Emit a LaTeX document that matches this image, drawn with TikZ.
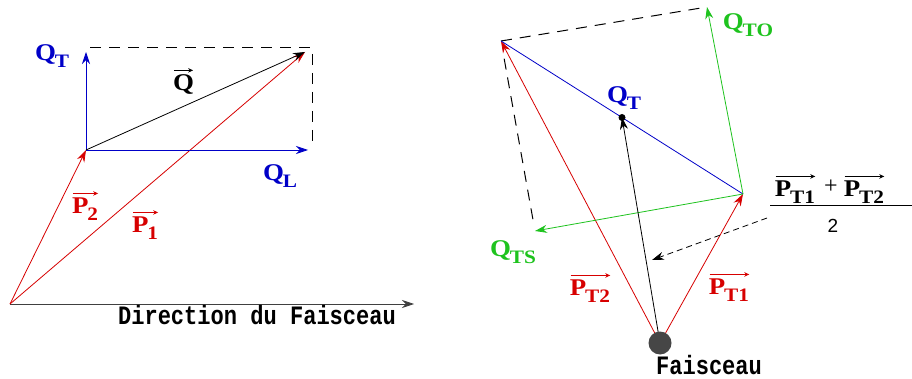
\documentclass[tikz,border=0pt]{standalone}
\usepackage{fontspec}
\usepackage{graphicx}
\setmainfont{Liberation Serif}
\newfontfamily\monof{Liberation Mono}
\newfontfamily\sansf{Liberation Sans}
\usetikzlibrary{arrows.meta}
\definecolor{vred}{RGB}{215,0,0}
\definecolor{vblue}{RGB}{0,0,200}
\definecolor{vgreen}{RGB}{30,195,30}
\definecolor{dotgray}{RGB}{70,70,70}
\newcommand\lbl[2]{\scalebox{1.12}[1]{\textbf{\fontsize{24}{24}\selectfont #1\kern-1pt\raisebox{-7pt}{\fontsize{19}{19}\selectfont #2}}}}
\newcommand\monotext[1]{\scalebox{0.98}[1.18]{#1}}
\begin{document}
\begin{tikzpicture}[x=1pt,y=-1pt,
  vecarrow/.style={-{Stealth[length=12pt,width=8pt]}, line width=0.8pt},
  vecbar/.style={-{Stealth[length=5pt,width=4.5pt]}, line width=0.9pt, shorten <=1pt},
  dline/.style={dash pattern=on 11pt off 8pt, line width=1pt},
  lab/.style={inner sep=0pt},
  monolab/.style={inner sep=0pt, font=\monof\bfseries\fontsize{22.5}{22.5}\selectfont}]
\useasboundingbox[fill=white] (0,0) rectangle (912,379);

% ---------- left diagram ----------
\coordinate (O) at (10,304);
\coordinate (A) at (86,150);
\coordinate (B) at (305,52);
\coordinate (QTt) at (86,52);
\coordinate (QLt) at (308,150);
\coordinate (D) at (414,304);
\coordinate (Ctl) at (90,48);
\coordinate (C) at (312,48);
\coordinate (Cb) at (312,148);

\draw[dline] (Ctl) -- (C) -- (Cb);
\draw[vecarrow, black!75] (O) -- (D);
\draw[vecarrow, vred] (O) -- (A);
\draw[vecarrow, vred] (O) -- (B);
\draw[vecarrow, vblue] (A) -- (QTt);
\draw[vecarrow, vblue] (A) -- (QLt);
\draw[vecarrow, black] (A) -- (B);

\node[lab, text=vblue] (lQT) at (52,56) {\lbl{Q}{T}};
\node[lab, text=vblue] (lQL) at (280,176) {\lbl{Q}{L}};
\node[lab] (lQ) at (183,86) {\lbl{Q}{}};
\node[lab, text=vred] (lP2) at (85,209) {\lbl{P}{2}};
\node[lab, text=vred] (lP1) at (145,228) {\lbl{P}{1}};
\draw[vecbar] ([yshift=4pt]lQ.north west) -- ([yshift=4pt]lQ.north east);
\draw[vecbar, vred] ([yshift=4pt]lP2.north west) -- ([yshift=4pt]lP2.north east);
\draw[vecbar, vred] ([yshift=4pt]lP1.north west) -- ([yshift=4pt]lP1.north east);
\node[monolab] (ldir) at (257,315) {\monotext{Direction du Faisceau}};

% ---------- right diagram ----------
\coordinate (F) at (660,343);
\coordinate (T1) at (743,194);
\coordinate (T2) at (501,41);
\coordinate (M) at (622,117.5);
\coordinate (TO) at (707,7);
\coordinate (TS) at (535,231);
\coordinate (Ds) at (767,218);
\coordinate (De) at (652,260);

\draw[dline] (T2) -- (TO);
\draw[dline, shorten <=18pt, shorten >=8pt] (T2) -- (TS);
\draw[vecarrow, vred] (F) -- (T1);
\draw[vecarrow, vred] (F) -- (T2);
\draw[line width=0.8pt, vblue] (T2) -- (T1);
\draw[vecarrow, vgreen] (T1) -- (TO);
\draw[vecarrow, vgreen] (T1) -- (TS);
\draw[vecarrow, black] (F) -- (M);
\fill[black] (M) circle (3.5pt);
\draw[-{Stealth[length=12pt,width=8pt]}, line width=0.8pt, dash pattern=on 6pt off 4pt] (Ds) -- (De);
\fill[dotgray] (F) circle (11.5pt);

\node[lab, text=vblue] (rQT) at (624,98) {\lbl{Q}{T}};
\node[lab, text=vgreen] (lQTO) at (748,25) {\lbl{Q}{TO}};
\node[lab, text=vgreen] (lQTS) at (513,252) {\lbl{Q}{TS}};
\node[lab, text=vred] (lPT2) at (590,291) {\lbl{P}{T2}};
\node[lab, text=vred] (lPT1) at (729,290) {\lbl{P}{T1}};
\draw[vecbar, vred] ([yshift=4pt]lPT2.north west) -- ([yshift=4pt]lPT2.north east);
\draw[vecbar, vred] ([yshift=4pt]lPT1.north west) -- ([yshift=4pt]lPT1.north east);
\node[monolab] (lF) at (709,365) {\monotext{Faisceau}};

\node[lab] (nA) at (795,192) {\lbl{P}{T1}};
\node[lab, font=\fontsize{24}{24}\selectfont] (nplus) at (831,187) {+};
\node[lab] (nB) at (864,192) {\lbl{P}{T2}};
\draw[vecbar] ([yshift=4pt]nA.north west) -- ([yshift=4pt]nA.north east);
\draw[vecbar] ([yshift=4pt]nB.north west) -- ([yshift=4pt]nB.north east);
\coordinate (barL) at (770,206);
\coordinate (barR) at (912,206);
\draw[line width=1pt] (barL) -- (barR);
\node[lab, font=\sansf\fontsize{19}{19}\selectfont] (den) at (833,226) {2};
\end{tikzpicture}
\end{document}
